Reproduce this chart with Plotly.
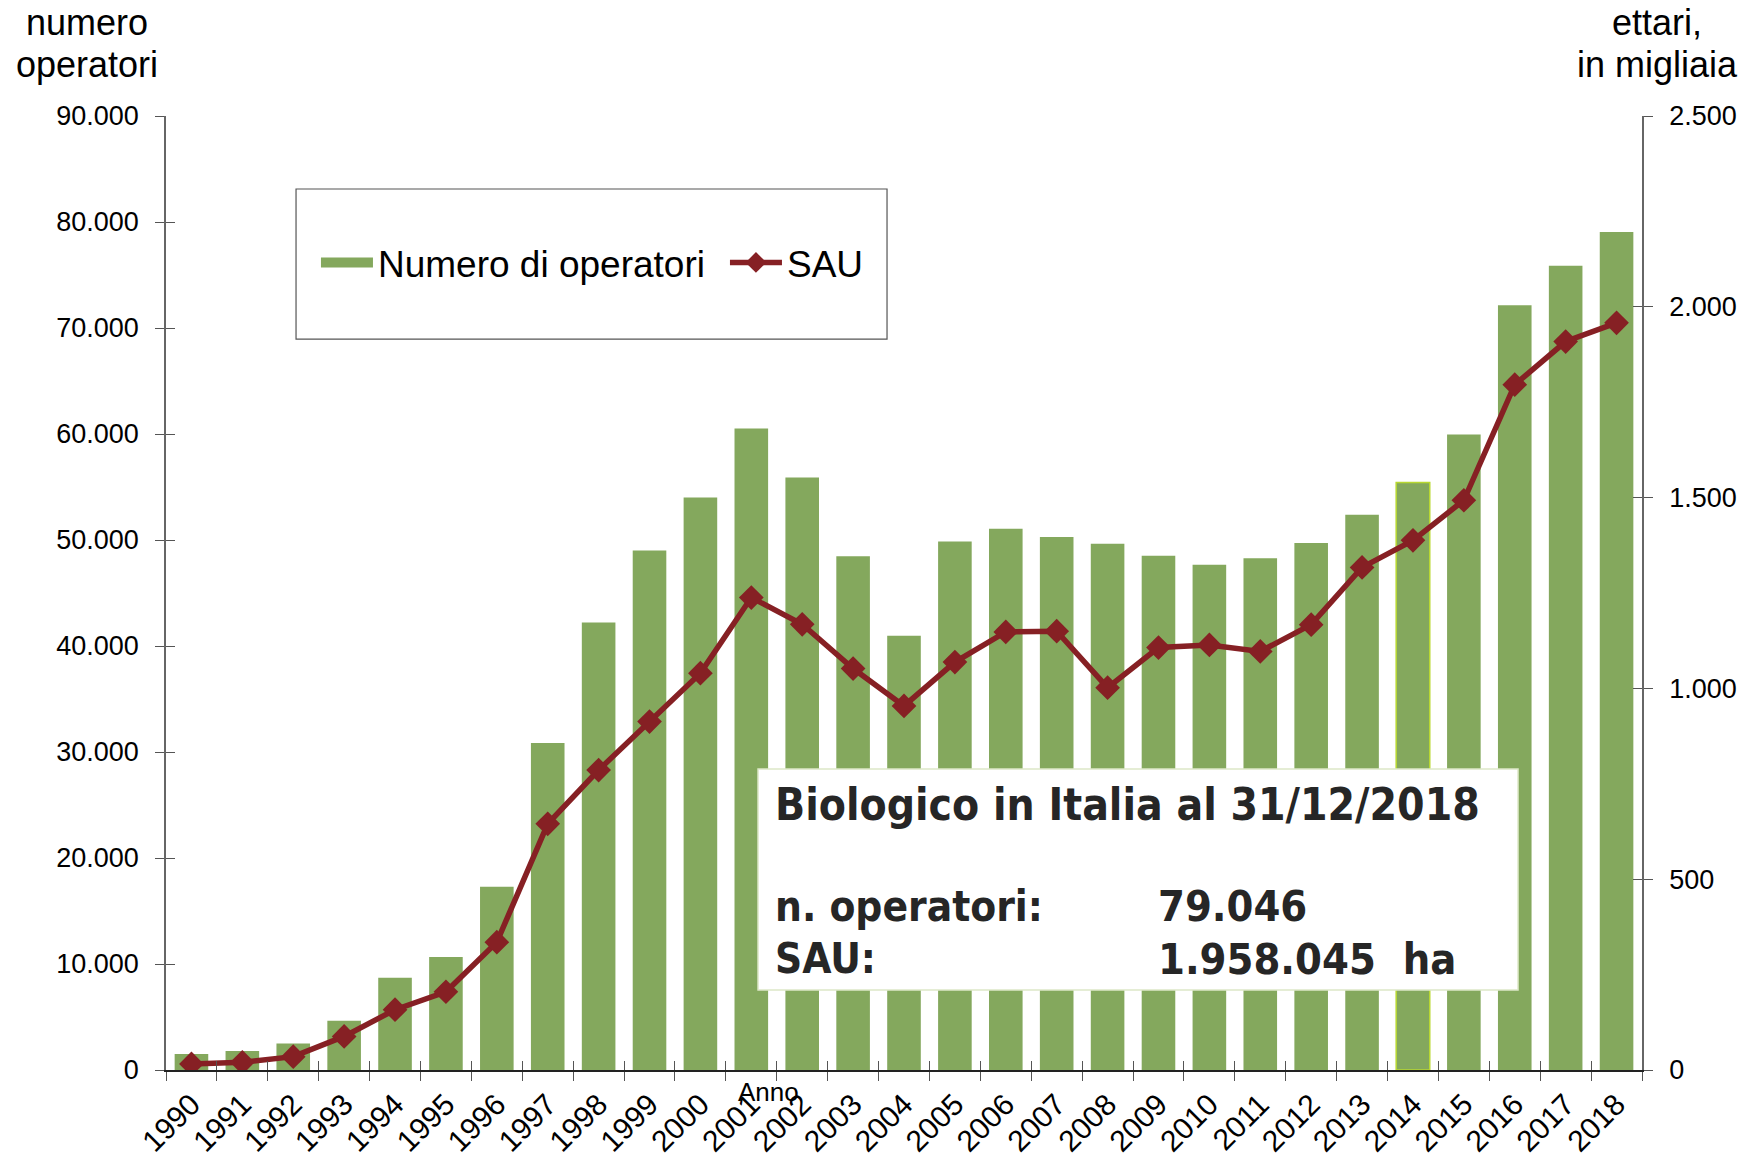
import plotly.graph_objects as go

# ---------------- data ----------------
years = [str(y) for y in range(1990, 2019)]
operatori = [1500, 1800, 2500, 4650, 8700, 10650, 17280, 30840, 42220, 49020,
             54000, 60510, 55900, 48470, 40970, 49860, 51070, 50280, 49650, 48510,
             47660, 48270, 49710, 52380, 55430, 59960, 72150, 75870, 79046]
sau = [16, 20, 35, 88, 158, 205, 335, 645, 786, 913,
       1040, 1238, 1168, 1052, 954, 1069, 1148, 1150, 1002, 1107,
       1114, 1097, 1167, 1317, 1388, 1493, 1796, 1909, 1958]
left_ticks = [0, 10000, 20000, 30000, 40000, 50000, 60000, 70000, 80000, 90000]
right_ticks = [0, 500, 1000, 1500, 2000, 2500]

# ---------------- style ----------------
GREEN = "#84A85D"
RED = "#862024"
FONT = "Liberation Sans, Arial, sans-serif"
BOLDC = "DejaVu Sans Condensed, DejaVu Sans, Verdana, sans-serif"

bar_line_colors = ["rgba(0,0,0,0)"] * len(years)
bar_line_widths = [0] * len(years)
bar_line_colors[years.index("2014")] = "#B8D830"
bar_line_widths[years.index("2014")] = 1.5

fig = go.Figure()
fig.add_trace(go.Bar(
    x=years, y=operatori, name="Numero di operatori", legendgroup="op", showlegend=False,
    marker=dict(color=GREEN, line=dict(color=bar_line_colors, width=bar_line_widths)),
    width=0.66, xaxis="x", yaxis="y",
))
# legend entry for the bars (wide green swatch like the original)
fig.add_trace(go.Scatter(
    x=[None], y=[None], name="Numero di operatori", legendgroup="op", mode="lines",
    line=dict(color=GREEN, width=10), xaxis="x", yaxis="y", hoverinfo="skip",
))
fig.add_trace(go.Scatter(
    x=years, y=sau, name="SAU", mode="lines+markers",
    line=dict(color=RED, width=5.5),
    marker=dict(symbol="diamond", size=19, color=RED),
    xaxis="x", yaxis="y2",
))
# invisible helper traces so the overlay axes (crossing tick marks) are drawn
fig.add_trace(go.Scatter(x=[0], y=[0], xaxis="x2", yaxis="y3", mode="markers",
                         marker=dict(opacity=0), showlegend=False, hoverinfo="skip"))
fig.add_trace(go.Scatter(x=[0], y=[0], xaxis="x2", yaxis="y4", mode="markers",
                         marker=dict(opacity=0), showlegend=False, hoverinfo="skip"))

n = len(years)
boundaries = [i - 0.5 for i in range(n + 1)]

fig.update_layout(
    width=1758, height=1159,
    margin=dict(l=166, r=116, t=116, b=89, autoexpand=False),
    paper_bgcolor="white", plot_bgcolor="white",
    separators=",.",
    font=dict(family=FONT, color="black", size=27),
    showlegend=True,
    legend=dict(orientation="h", x=0.1016, y=0.846, xanchor="left", yanchor="middle",
                font=dict(family=FONT, size=37, color="black"),
                bgcolor="rgba(0,0,0,0)", borderwidth=0, entrywidth=342,
                itemwidth=52, traceorder="normal"),
    xaxis=dict(type="category", categoryorder="array", categoryarray=years,
               range=[-0.5, n - 0.5], tickson="boundaries", automargin=False,
               ticks="outside", ticklen=9, tickcolor="#555555", tickwidth=1.2,
               showline=True, linecolor="#222222", linewidth=1.5,
               tickangle=-45, tickfont=dict(size=30, family=FONT),
               ticklabelstandoff=3,
               showgrid=False, zeroline=False),
    xaxis2=dict(overlaying="x", anchor="y3", range=[-0.5, n - 0.5], automargin=False,
                tickmode="array", tickvals=boundaries, ticks="inside", ticklen=9,
                tickcolor="#555555", tickwidth=1.2, showticklabels=False,
                showline=False, showgrid=False, zeroline=False),
    yaxis=dict(range=[0, 90000], tickmode="array", tickvals=left_ticks, automargin=False,
               tickformat=",d", ticks="outside", ticklen=9, tickcolor="#555555",
               tickwidth=1.2, showline=True, linecolor="#666666", linewidth=1.5,
               ticklabelstandoff=11,
               showgrid=False, zeroline=False, tickfont=dict(size=27)),
    yaxis2=dict(range=[0, 2500], overlaying="y", side="right", anchor="x", automargin=False,
                tickmode="array", tickvals=right_ticks, tickformat=",d",
                ticks="outside", ticklen=9, tickcolor="#555555", tickwidth=1.2,
                showline=True, linecolor="#666666", linewidth=1.5,
                ticklabelstandoff=11,
                showgrid=False, zeroline=False, tickfont=dict(size=27)),
    yaxis3=dict(range=[0, 90000], overlaying="y", side="left", anchor="x2", automargin=False,
                tickmode="array", tickvals=left_ticks, ticks="inside", ticklen=9,
                tickcolor="#555555", tickwidth=1.2, showticklabels=False,
                showline=False, showgrid=False, zeroline=False),
    yaxis4=dict(range=[0, 2500], overlaying="y", side="right", anchor="x2", automargin=False,
                tickmode="array", tickvals=right_ticks, ticks="inside", ticklen=9,
                tickcolor="#555555", tickwidth=1.2, showticklabels=False,
                showline=False, showgrid=False, zeroline=False),
)

shapes = [
    # legend frame
    dict(type="rect", xref="paper", yref="paper", x0=0.0881, x1=0.4885, y0=0.7662, y1=0.9235,
         line=dict(color="#555555", width=1.2), fillcolor="rgba(0,0,0,0)", layer="above"),
    # info box
    dict(type="rect", xref="paper", yref="paper", x0=0.4011, x1=0.916, y0=0.0839, y1=0.3155,
         line=dict(color="#DDE8C8", width=1.5), fillcolor="white", layer="above"),
]

def py(px):
    """pixel row in the figure -> paper y"""
    return (1070 - px) / 954

def px_(x):
    """pixel column in the figure -> paper x"""
    return (x - 166) / 1476

annotations = [
    dict(text="numero", xref="paper", yref="paper", x=px_(87), y=py(23),
         xanchor="center", yanchor="middle", showarrow=False,
         font=dict(size=36, family=FONT, color="black")),
    dict(text="operatori", xref="paper", yref="paper", x=px_(87), y=py(65),
         xanchor="center", yanchor="middle", showarrow=False,
         font=dict(size=36, family=FONT, color="black")),
    dict(text="ettari,", xref="paper", yref="paper", x=px_(1657), y=py(23),
         xanchor="center", yanchor="middle", showarrow=False,
         font=dict(size=36, family=FONT, color="black")),
    dict(text="in migliaia", xref="paper", yref="paper", x=px_(1657), y=py(65),
         xanchor="center", yanchor="middle", showarrow=False,
         font=dict(size=36, family=FONT, color="black")),
    dict(text="Anno", xref="paper", yref="paper", x=px_(768), y=py(1092),
         xanchor="center", yanchor="middle", showarrow=False,
         font=dict(size=26, family=FONT, color="black")),
    dict(text="<b>Biologico in Italia al 31/12/2018</b>", xref="paper", yref="paper",
         x=0.4115, y=0.2778, xanchor="left", yanchor="middle", showarrow=False,
         font=dict(size=44, family=BOLDC, color="#262626")),
    dict(text="<b>n. operatori:</b>", xref="paper", yref="paper",
         x=0.4115, y=0.1719, xanchor="left", yanchor="middle", showarrow=False,
         font=dict(size=42, family=BOLDC, color="#262626")),
    dict(text="<b>SAU:</b>", xref="paper", yref="paper",
         x=0.4115, y=0.1164, xanchor="left", yanchor="middle", showarrow=False,
         font=dict(size=42, family=BOLDC, color="#262626")),
    dict(text="<b>79.046</b>", xref="paper", yref="paper",
         x=0.671, y=0.1719, xanchor="left", yanchor="middle", showarrow=False,
         font=dict(size=43, family=BOLDC, color="#262626")),
    dict(text="<b>1.958.045  ha</b>", xref="paper", yref="paper",
         x=0.671, y=0.1164, xanchor="left", yanchor="middle", showarrow=False,
         font=dict(size=43, family=BOLDC, color="#262626")),
]
fig.update_layout(shapes=shapes, annotations=annotations)

fig.write_html("out.html", config={"displayModeBar": False},
               post_script="document.body.style.margin='0';")
